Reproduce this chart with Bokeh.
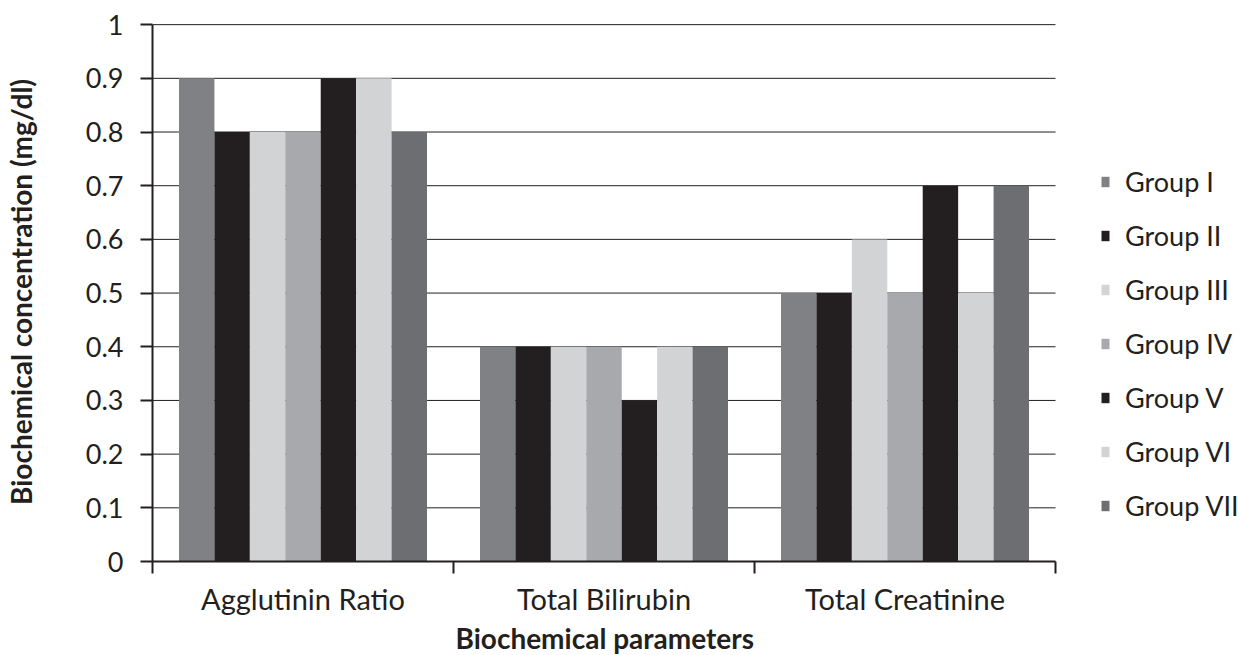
from bokeh.plotting import figure
from bokeh.models import ColumnDataSource, Range1d, FixedTicker, Legend, LegendItem, Title
from bokeh.embed import file_html
from bokeh.resources import INLINE

# Biochemical parameters per treatment group (mg/dl)
parameters = ["Agglutinin Ratio", "Total Bilirubin", "Total Creatinine"]
groups = ["Group I", "Group II", "Group III", "Group IV", "Group V", "Group VI", "Group VII"]
group_i = [0.9, 0.4, 0.5]
group_ii = [0.8, 0.4, 0.5]
group_iii = [0.8, 0.4, 0.6]
group_iv = [0.8, 0.4, 0.5]
group_v = [0.9, 0.3, 0.7]
group_vi = [0.9, 0.4, 0.5]
group_vii = [0.8, 0.4, 0.7]
series = [group_i, group_ii, group_iii, group_iv, group_v, group_vi, group_vii]
colors = ["#808184", "#231f20", "#d1d3d4", "#a7a9ac", "#231f20", "#d1d3d4", "#6d6e71"]
y_ticks = [0, 0.1, 0.2, 0.3, 0.4, 0.5, 0.6, 0.7, 0.8, 0.9, 1]
y_tick_labels = ["0", "0.1", "0.2", "0.3", "0.4", "0.5", "0.6", "0.7", "0.8", "0.9", "1"]

FONT = "Lato"
INK = "#231f20"
W, H = 1240, 655
LEFT, TOP, BOTTOM = 152, 22, 94
CAT_PX = 301          # pixel width of one parameter block
bar_w = 0.1177        # bar width as a fraction of one block
n_cat = len(parameters)

# the frame runs to the right edge so the legend can sit beside the bars;
# axis and rule lines are bounded to the category span
x_end = (W - LEFT) / CAT_PX
p = figure(width=W, height=H, output_backend="svg", toolbar_location=None,
           x_range=Range1d(0, x_end), y_range=Range1d(0, 1.004),
           min_border_left=LEFT, min_border_right=0, min_border_top=TOP, min_border_bottom=BOTTOM)
p.outline_line_color = None
p.background_fill_color = "white"
p.border_fill_color = "white"
p.xgrid.grid_line_color = None
p.ygrid.grid_line_color = None

# horizontal rules at each y tick across the category span
p.segment(x0=[0] * len(y_ticks), x1=[n_cat] * len(y_ticks), y0=y_ticks, y1=y_ticks,
          line_color=INK, line_width=1)

items = []
for k, (name, vals, col) in enumerate(zip(groups, series, colors)):
    xs = [i + 0.5 + (k - 3) * bar_w for i in range(n_cat)]
    src = ColumnDataSource(dict(x=xs, top=vals))
    r = p.vbar(x="x", top="top", width=bar_w, source=src, fill_color=col, line_color=None)
    items.append(LegendItem(label=name, renderers=[r]))

legend = Legend(items=items, location=(948, 38), orientation="vertical",
                label_text_font=FONT, label_text_font_size="27px", label_text_color=INK,
                glyph_width=10, glyph_height=13, label_standoff=15, spacing=18,
                label_height=36, background_fill_alpha=0, border_line_color=None,
                padding=0, margin=0)
p.add_layout(legend, "center")

# y axis
p.yaxis.ticker = FixedTicker(ticks=y_ticks, minor_ticks=[])
p.yaxis.major_label_overrides = {t: l for t, l in zip(y_ticks, y_tick_labels)}
p.yaxis.bounds = (0, 1)
p.yaxis.axis_label = "Biochemical concentration (mg/dl)"
p.yaxis.axis_label_text_font = FONT
p.yaxis.axis_label_text_font_style = "bold"
p.yaxis.axis_label_text_font_size = "28px"
p.yaxis.axis_label_text_color = INK
p.yaxis.axis_label_standoff = 45
p.yaxis.major_label_text_font = FONT
p.yaxis.major_label_text_font_size = "27px"
p.yaxis.major_label_text_color = INK
p.yaxis.major_label_standoff = 17
p.yaxis.axis_line_color = INK
p.yaxis.axis_line_width = 2
p.yaxis.major_tick_line_color = INK
p.yaxis.major_tick_line_width = 2
p.yaxis.major_tick_out = 12
p.yaxis.major_tick_in = 0

# x axis: category labels at block centres, tick marks at block boundaries
p.xaxis.ticker = FixedTicker(ticks=[i + 0.5 for i in range(n_cat)],
                             minor_ticks=list(range(n_cat + 1)))
p.xaxis.major_label_overrides = {i + 0.5: name for i, name in enumerate(parameters)}
p.xaxis.bounds = (0, n_cat)
p.xaxis.major_tick_line_color = None
p.xaxis.minor_tick_line_color = INK
p.xaxis.minor_tick_line_width = 2
p.xaxis.minor_tick_out = 12
p.xaxis.minor_tick_in = 0
p.xaxis.major_label_text_font = FONT
p.xaxis.major_label_text_font_size = "29px"
p.xaxis.major_label_text_color = INK
p.xaxis.major_label_standoff = 7
p.xaxis.axis_line_color = INK
p.xaxis.axis_line_width = 2

# x axis title, centred under the category span
p.add_layout(Title(text="Biochemical parameters", align="left", offset=303,
                   text_font=FONT, text_font_style="bold", text_font_size="28px",
                   text_color=INK, standoff=0), "below")

open("out.html", "w").write(file_html(p, INLINE))
